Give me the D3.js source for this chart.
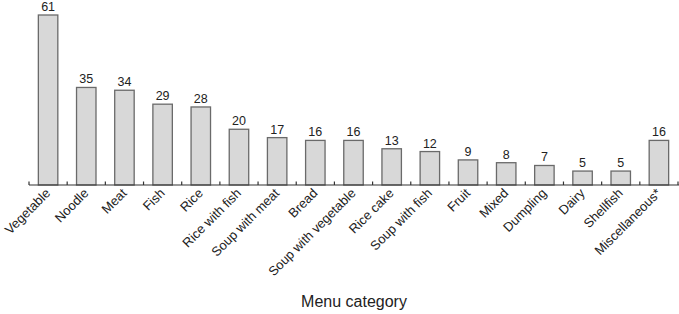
<!DOCTYPE html>
<html>
<head>
<meta charset="utf-8">
<script src="https://cdn.jsdelivr.net/npm/d3@7"></script>
<style>
  body { margin: 0; background: #fff; }
  text { font-family: "Liberation Sans", Arial, sans-serif; fill: #222; }
</style>
</head>
<body>
<svg></svg>
<script>
const width = 679;
const height = 314;

const categories = ['Vegetable', 'Noodle', 'Meat', 'Fish', 'Rice', 'Rice with fish',
  'Soup with meat', 'Bread', 'Soup with vegetable', 'Rice cake', 'Soup with fish',
  'Fruit', 'Mixed', 'Dumpling', 'Dairy', 'Shellfish', 'Miscellaneous*'];
const counts = [61, 35, 34, 29, 28, 20, 17, 16, 16, 13, 12, 9, 8, 7, 5, 5, 16];
const xTitle = 'Menu category';

const margin = { top: 15, right: 1, bottom: 129, left: 29 };
const baseY = height - margin.bottom;

const svg = d3.select('svg')
  .attr('width', width)
  .attr('height', height);

const x = d3.scaleBand()
  .domain(categories)
  .range([margin.left, width - margin.right])
  .paddingInner(0.49)
  .paddingOuter(0.245);

const y = d3.scaleLinear()
  .domain([0, d3.max(counts)])
  .range([baseY, margin.top]);

const data = categories.map((c, i) => ({ name: c, value: counts[i] }));

// bars
svg.append('g')
  .selectAll('rect')
  .data(data)
  .join('rect')
  .attr('x', (d) => x(d.name))
  .attr('y', (d) => y(d.value))
  .attr('width', x.bandwidth())
  .attr('height', (d) => baseY - y(d.value))
  .style('fill', '#d8d8d8')
  .style('stroke', '#6a6a6a')
  .style('stroke-width', 1.3);

// value labels
svg.append('g')
  .selectAll('text')
  .data(data)
  .join('text')
  .attr('x', (d) => x(d.name) + x.bandwidth() / 2)
  .attr('y', (d) => y(d.value) - 4)
  .attr('text-anchor', 'middle')
  .style('font-size', '12.5px')
  .text((d) => d.value);

// axis line + ticks between bars
const step = x.step();
const edges = d3.range(categories.length + 1).map((i) => margin.left + i * step);

const axis = svg.append('g');
axis.append('line')
  .attr('x1', margin.left)
  .attr('x2', width)
  .attr('y1', baseY)
  .attr('y2', baseY)
  .style('stroke', '#333')
  .style('stroke-width', 1.2);

axis.selectAll('.tick')
  .data(edges)
  .join('line')
  .attr('class', 'tick')
  .attr('x1', (d) => d)
  .attr('x2', (d) => d)
  .attr('y1', baseY)
  .attr('y2', baseY - 3.5)
  .style('stroke', '#333')
  .style('stroke-width', 1.2);

// rotated category labels
axis.selectAll('.lab')
  .data(categories)
  .join('text')
  .attr('class', 'lab')
  .attr('text-anchor', 'end')
  .attr('transform', (d) => `translate(${x(d) + x.bandwidth() / 2 + 3},${baseY + 9}) rotate(-45)`)
  .style('font-size', '13px')
  .text((d) => d);

// axis title
svg.append('text')
  .attr('x', (margin.left + width) / 2)
  .attr('y', 307)
  .attr('text-anchor', 'middle')
  .style('font-size', '16px')
  .text(xTitle);
</script>
</body>
</html>
